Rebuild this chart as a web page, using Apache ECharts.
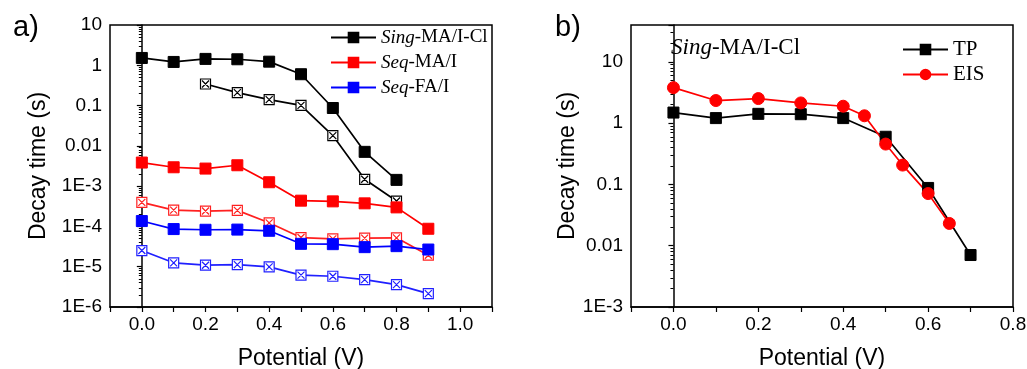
<!DOCTYPE html>
<html>
<head>
<meta charset="utf-8">
<script src="https://cdn.jsdelivr.net/npm/echarts@6/dist/echarts.min.js"></script>
<style>
  html, body { margin: 0; padding: 0; background: #fff; }
  #chart { width: 1027px; height: 369px; }
</style>
</head>
<body>
<div id="chart"></div>
<script>
// panel a) potentials and decay times
const potentialA = [0.0, 0.1, 0.2, 0.3, 0.4, 0.5, 0.6, 0.7, 0.8, 0.9]
const singFilled = [1.52, 1.21, 1.44, 1.41, 1.23, 0.6, 0.087, 0.0071, 0.00143]
const singOpen = [null, null, 0.343, 0.209, 0.14, 0.101, 0.018, 0.00148, 0.000427]
const seqMAFilled = [0.00385, 0.00294, 0.00273, 0.0033, 0.00125, 0.000436, 0.000419, 0.000374, 0.000297, 0.0000875]
const seqMAOpen = [0.000396, 0.000255, 0.000241, 0.00025, 0.000123, 0.000053, 0.0000493, 0.0000513, 0.000052, 0.0000193]
const seqFAFilled = [0.000136, 0.000086, 0.0000826, 0.0000835, 0.000078, 0.000037, 0.0000363, 0.0000306, 0.0000324, 0.0000267]
const seqFAOpen = [0.0000252, 0.0000125, 0.0000109, 0.0000113, 0.0000099, 0.00000616, 0.0000058, 0.00000479, 0.0000036, 0.00000215]

// panel b) TP vs EIS
const potentialTP = [0.0, 0.1, 0.2, 0.3, 0.4, 0.5, 0.6, 0.7]
const tpValues = [1.49, 1.21, 1.42, 1.4, 1.21, 0.6, 0.0877, 0.00705]
const potentialEIS = [0.0, 0.1, 0.2, 0.3, 0.4, 0.45, 0.5, 0.54, 0.6, 0.65]
const eisValues = [3.8, 2.34, 2.52, 2.14, 1.89, 1.32, 0.456, 0.207, 0.071, 0.0231]

const zip = (xs, ys) => ys.map((y, i) => [xs[i], y]).filter(p => p[1] != null)

const crossBox = 'path://M0,0L10,0L10,10L0,10Z M1.5,1.5L8.5,8.5 M8.5,1.5L1.5,8.5'
const sans = 'Liberation Sans'
const serif = 'Liberation Serif'

// only label whole decades, Origin style (10, 1, 0.1, 0.01, 1E-3 ...)
const logLabel = v => {
  const e = Math.log10(v)
  if (Math.abs(e - Math.round(e)) > 1e-6) return ''
  const k = Math.round(e)
  if (k >= -2) return k >= 0 ? String(Math.pow(10, k)) : (k === -1 ? '0.1' : '0.01')
  return '1E' + k
}

const xAxisBase = (gridIndex, max) => ({
  type: 'value', gridIndex, min: -0.1, max, interval: 0.1,
  name: 'Potential (V)', nameLocation: 'middle', nameGap: 40,
  nameTextStyle: { fontFamily: sans, fontSize: 23, color: '#000' },
  axisLine: { lineStyle: { color: '#000', width: 1.5 } },
  axisTick: { inside: false, length: 5, lineStyle: { color: '#000', width: 1.2 } },
  axisLabel: {
    fontFamily: sans, fontSize: 19, color: '#000', margin: 8,
    formatter: v => {
      const k = Math.round(v * 10)
      return (k >= 0 && k <= 10 && k % 2 === 0) ? v.toFixed(1) : ''
    }
  },
  splitLine: { show: false }
})

const yAxisBase = (gridIndex, min, max, gap) => ({
  type: 'log', gridIndex, min, max, logBase: 10,
  name: 'Decay time (s)', nameLocation: 'middle', nameGap: gap,
  nameTextStyle: { fontFamily: sans, fontSize: 23, color: '#000' },
  axisLine: { show: true, lineStyle: { color: '#000', width: 1.5 } },
  axisTick: { inside: false, length: 5, lineStyle: { color: '#000', width: 1.2 } },
  minorTick: { show: true, splitNumber: 9, length: 3, lineStyle: { color: '#000', width: 1 } },
  axisLabel: { fontFamily: sans, fontSize: 19, color: '#000', margin: 8, formatter: logLabel },
  splitLine: { show: false }
})

const filled = (name, data, color, xi, yi, symbol = 'rect', size = 11) => ({
  name, type: 'line', xAxisIndex: xi, yAxisIndex: yi, data,
  symbol, symbolSize: size, showSymbol: true,
  lineStyle: { color, width: 1.7 },
  itemStyle: { color, borderColor: color, borderWidth: 1 },
  emphasis: { disabled: true }
})

const open = (name, data, color) => ({
  name, type: 'line', xAxisIndex: 0, yAxisIndex: 0, data,
  symbol: crossBox, symbolSize: 10,
  lineStyle: { color, width: 1.7 },
  itemStyle: { color: '#fff', borderColor: color, borderWidth: 1.2 },
  emphasis: { disabled: true }
})

const chart = echarts.init(document.getElementById('chart'), null, { renderer: 'canvas' })

chart.setOption({
  animation: false,
  backgroundColor: '#fff',
  title: [
    { text: 'a)', left: 8, top: 8, textStyle: { fontFamily: sans, fontSize: 29, fontWeight: 'normal', color: '#000' } },
    { text: 'b)', left: 550, top: 8, textStyle: { fontFamily: sans, fontSize: 29, fontWeight: 'normal', color: '#000' } },
    {
      text: '{i|Sing}-MA/I-Cl', left: 666, top: 31,
      textStyle: {
        fontFamily: serif, fontSize: 23, fontWeight: 'normal', color: '#000',
        rich: { i: { fontFamily: serif, fontSize: 23, fontStyle: 'italic', color: '#000' } }
      }
    }
  ],
  grid: [
    { left: 110, top: 25, width: 382, height: 282, outerBoundsMode: 'none', containLabel: false, show: true, borderColor: '#000', borderWidth: 1.5 },
    { left: 631, top: 25, width: 382, height: 282, outerBoundsMode: 'none', containLabel: false, show: true, borderColor: '#000', borderWidth: 1.5 }
  ],
  xAxis: [xAxisBase(0, 1.1), xAxisBase(1, 0.8)],
  yAxis: [yAxisBase(0, 1e-6, 10, 60), yAxisBase(1, 1e-3, 40, 51)],
  legend: [
    {
      orient: 'vertical', left: 325, top: 22, itemGap: 4, itemWidth: 45, itemHeight: 12,
      data: ['Sing-MA/I-Cl', 'Seq-MA/I', 'Seq-FA/I'],
      formatter: n => n.replace(/^(Sing|Seq)/, '{i|$1}'),
      textStyle: {
        fontFamily: serif, fontSize: 19, color: '#000', lineHeight: 21,
        rich: { i: { fontFamily: serif, fontSize: 19, fontStyle: 'italic', color: '#000' } }
      }
    },
    {
      orient: 'vertical', left: 897, top: 34, itemGap: 4, itemWidth: 45, itemHeight: 12,
      data: ['TP', 'EIS'],
      textStyle: { fontFamily: serif, fontSize: 21, color: '#000', lineHeight: 21 }
    }
  ],
  series: [
    filled('Sing-MA/I-Cl', zip(potentialA, singFilled), '#000', 0, 0),
    open('Sing-MA/I-Cl open', zip(potentialA, singOpen), '#000'),
    filled('Seq-MA/I', zip(potentialA, seqMAFilled), '#ff0000', 0, 0),
    open('Seq-MA/I open', zip(potentialA, seqMAOpen), '#ff2020'),
    filled('Seq-FA/I', zip(potentialA, seqFAFilled), '#0000ff', 0, 0),
    open('Seq-FA/I open', zip(potentialA, seqFAOpen), '#2020ff'),
    filled('TP', zip(potentialTP, tpValues), '#000', 1, 1, 'rect', 11),
    filled('EIS', zip(potentialEIS, eisValues), '#ff0000', 1, 1, 'circle', 12)
  ]
})
</script>
</body>
</html>
